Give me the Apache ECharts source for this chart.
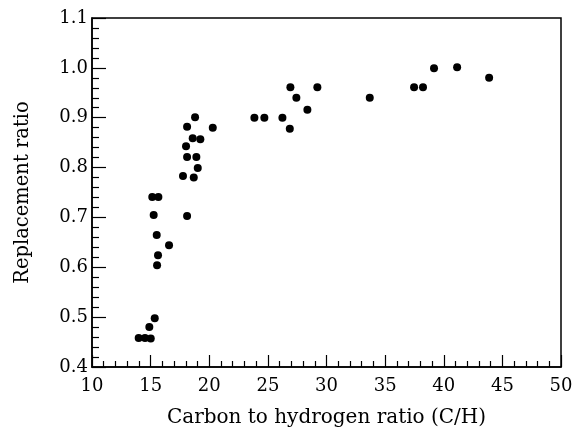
<!DOCTYPE html>
<html>
<head>
<meta charset="utf-8">
<script src="https://cdn.jsdelivr.net/npm/echarts@6/dist/echarts.min.js"></script>
<style>
  html, body { margin: 0; padding: 0; background: #fff; }
  #chart { width: 584px; height: 434px; }
</style>
</head>
<body>
<div id="chart"></div>
<script>
// Carbon to hydrogen ratio (C/H) of each sample
var chRatio = [
  13.98, 14.52, 15.01, 14.89, 15.35, 15.55, 15.63, 16.57, 15.52, 15.26,
  15.14, 15.66, 18.11, 17.76, 18.68, 19.02, 18.11, 18.90, 18.02, 18.59,
  19.24, 18.11, 18.79, 20.30, 23.85, 24.70, 26.24, 26.87, 26.92, 27.43,
  28.37, 29.22, 33.69, 37.47, 38.23, 39.17, 41.14, 43.87
];
// Replacement ratio measured for each sample
var replacement = [
  0.458, 0.458, 0.457, 0.480, 0.498, 0.604, 0.624, 0.644, 0.665, 0.705,
  0.741, 0.741, 0.703, 0.783, 0.780, 0.799, 0.821, 0.821, 0.843, 0.859,
  0.857, 0.882, 0.901, 0.880, 0.900, 0.900, 0.900, 0.878, 0.961, 0.940,
  0.916, 0.961, 0.940, 0.961, 0.961, 0.999, 1.001, 0.980
];
var xTicks = [10, 15, 20, 25, 30, 35, 40, 45, 50];
var yTicks = [0.4, 0.5, 0.6, 0.7, 0.8, 0.9, 1.0, 1.1];

var points = chRatio.map(function (x, i) { return [x, replacement[i]]; });

var serif = 'DejaVu Serif';
var chart = echarts.init(document.getElementById('chart'), null, { renderer: 'canvas' });
chart.setOption({
  animation: false,
  backgroundColor: '#fff',
  grid: {
    left: 92, right: 23, top: 18, bottom: 67,
    show: true, borderColor: '#000', borderWidth: 1.5
  },
  xAxis: {
    type: 'value',
    min: xTicks[0], max: xTicks[xTicks.length - 1], interval: 5,
    name: 'Carbon to hydrogen ratio (C/H)',
    nameLocation: 'middle', nameGap: 41,
    nameTextStyle: { fontFamily: serif, fontSize: 20, color: '#000' },
    axisLine: { show: true, lineStyle: { color: '#000', width: 1.5 } },
    axisTick: { show: true, inside: true, length: 12, lineStyle: { color: '#000', width: 1.2 } },
    minorTick: { show: true, splitNumber: 5, length: 6, lineStyle: { color: '#000', width: 1.2 } },
    splitLine: { show: false },
    axisLabel: {
      fontFamily: serif, fontSize: 18, color: '#000', margin: 10,
      formatter: function (v) { return String(v); }
    }
  },
  yAxis: {
    type: 'value',
    min: yTicks[0], max: yTicks[yTicks.length - 1], interval: 0.1,
    name: 'Replacement ratio',
    nameLocation: 'middle', nameGap: 59,
    nameTextStyle: { fontFamily: serif, fontSize: 19.5, color: '#000' },
    axisLine: { show: true, lineStyle: { color: '#000', width: 1.5 } },
    axisTick: { show: true, inside: true, length: 14, lineStyle: { color: '#000', width: 1.2 } },
    minorTick: { show: true, splitNumber: 5, length: 7, lineStyle: { color: '#000', width: 1.2 } },
    splitLine: { show: false },
    axisLabel: {
      fontFamily: serif, fontSize: 18, color: '#000', margin: 4,
      formatter: function (v) { return v.toFixed(1); }
    }
  },
  series: [{
    type: 'scatter',
    data: points,
    symbol: 'circle',
    symbolSize: 8,
    itemStyle: { color: '#000', opacity: 1 }
  }]
});
</script>
</body>
</html>
